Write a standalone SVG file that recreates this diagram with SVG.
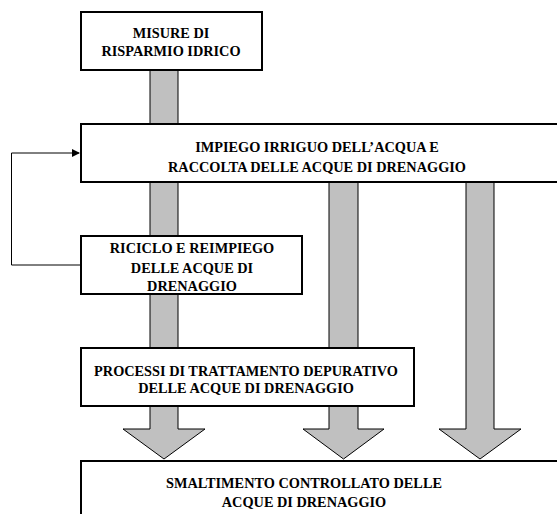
<svg xmlns="http://www.w3.org/2000/svg" width="557" height="514" viewBox="0 0 557 514">
<style>
.box{fill:#fff;stroke:#000;stroke-width:2}
.arr{fill:#c0c0c0;stroke:#000;stroke-width:1}
.fb{fill:none;stroke:#000;stroke-width:1}
</style>
<defs>
<marker id="ah" markerWidth="8" markerHeight="8" refX="7" refY="4" orient="auto" markerUnits="userSpaceOnUse">
<path d="M0,0 L8,4 L0,8 Z" fill="#000"/>
</marker>
</defs>
<rect width="557" height="514" fill="#fff"/>
<g id="connectors">
<polygon class="arr" points="150,70 178,70 178,429 205,429 164,459 123,429 150,429"/>
<polygon class="arr" points="329,182 358,182 358,429 384,429 343.5,459 303,429 329,429"/>
<polygon class="arr" points="466,182 494,182 494,429 521,429 480,459 439,429 466,429"/>
<polyline class="fb" points="80,265 11.5,265 11.5,153 79,153" marker-end="url(#ah)"/>
</g>
<g font-family="Liberation Serif, Times New Roman, serif" font-weight="700" font-size="14.3" text-anchor="middle" fill="#000">
<g id="n1">
<rect class="box" x="81" y="12" width="181" height="58"/>
<text x="171" y="38">MISURE DI</text>
<text x="171" y="56">RISPARMIO IDRICO</text>
</g>
<g id="n2">
<rect class="box" x="81" y="124" width="490" height="58"/>
<text x="317" y="152">IMPIEGO IRRIGUO DELL’ACQUA E</text>
<text x="317" y="172">RACCOLTA DELLE ACQUE DI DRENAGGIO</text>
</g>
<g id="n3">
<rect class="box" x="81" y="236" width="221" height="58"/>
<text x="192" y="253">RICICLO E REIMPIEGO</text>
<text x="192" y="273">DELLE ACQUE DI</text>
<text x="192" y="291">DRENAGGIO</text>
</g>
<g id="n4">
<rect class="box" x="81" y="348" width="333" height="58"/>
<text x="246" y="376">PROCESSI DI TRATTAMENTO DEPURATIVO</text>
<text x="246" y="393">DELLE ACQUE DI DRENAGGIO</text>
</g>
<g id="n5">
<rect class="box" x="81" y="461" width="490" height="70"/>
<text x="304" y="488">SMALTIMENTO CONTROLLATO DELLE</text>
<text x="304" y="507">ACQUE DI DRENAGGIO</text>
</g>
</g>
</svg>
